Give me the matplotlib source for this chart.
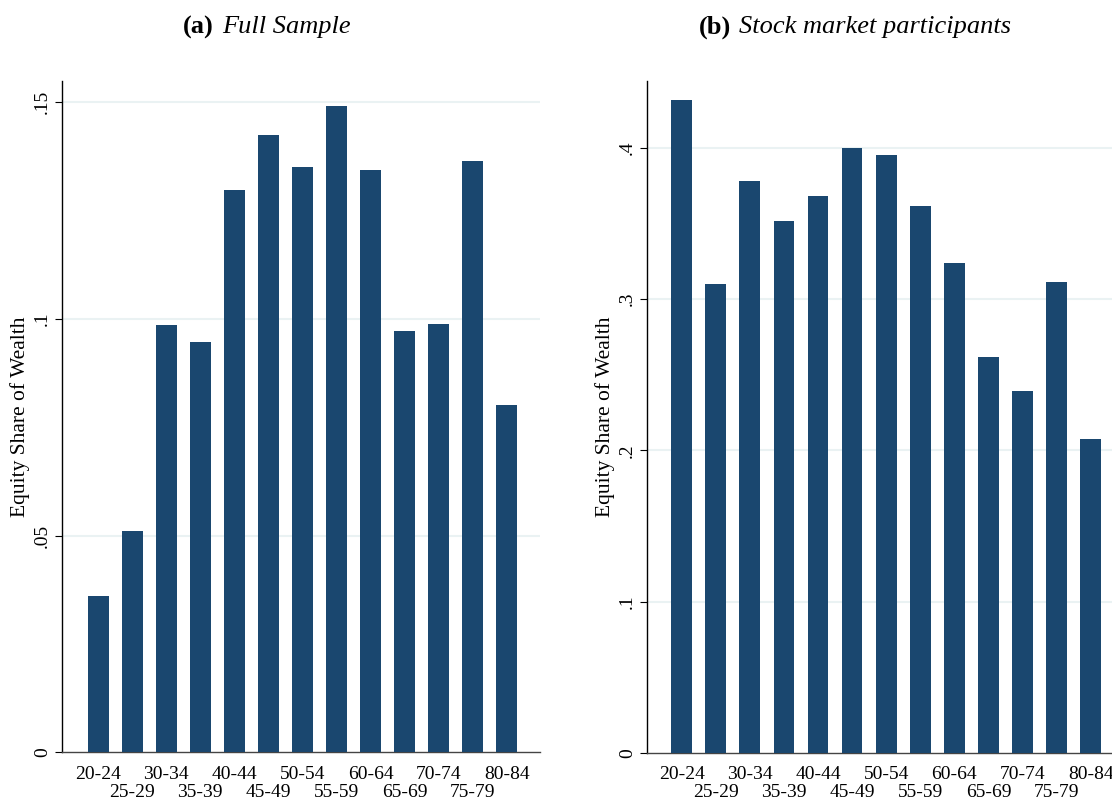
import numpy as np
import matplotlib
matplotlib.use("Agg")
import matplotlib.pyplot as plt

plt.rcParams['font.family'] = ['Liberation Serif', 'DejaVu Serif']

# age groups and equity share of wealth by group
grupos_edad = ['20-24', '25-29', '30-34', '35-39', '40-44', '45-49', '50-54',
               '55-59', '60-64', '65-69', '70-74', '75-79', '80-84']
muestra_total = [0.036, 0.051, 0.0986, 0.0947, 0.1295, 0.1422, 0.135,
                 0.149, 0.1343, 0.0972, 0.0988, 0.1362, 0.080]
participantes = [0.4316, 0.310, 0.378, 0.3516, 0.368, 0.400, 0.395,
                 0.3615, 0.324, 0.2617, 0.239, 0.311, 0.2075]

ticks_a = [0, 0.05, 0.1, 0.15]
etiquetas_a = ['0', '.05', '.1', '.15']
ticks_b = [0, 0.1, 0.2, 0.3, 0.4]
etiquetas_b = ['0', '.1', '.2', '.3', '.4']

color_barra = '#1a476f'
color_rejilla = '#eaf2f3'


def graficar_panel(ax, valores, ticks, etiquetas, ymax, xmin):
    x = np.arange(len(grupos_edad))
    ax.bar(x, valores, width=0.61, color=color_barra, zorder=3)
    ax.set_xlim(xmin, 12.98)
    ax.set_ylim(0, ymax)

    ax.set_yticks(ticks)
    ax.set_yticklabels(etiquetas, rotation=90, va='center', fontsize=14)
    ax.tick_params(axis='y', direction='out', length=5, width=0.8, pad=3)
    for y in ticks[1:]:
        ax.axhline(y, color=color_rejilla, linewidth=1.5, zorder=1)

    # etiquetas escalonadas en dos filas
    ax.set_xticks(x[::2])
    ax.set_xticklabels(grupos_edad[::2], fontsize=14)
    ax.set_xticks(x[1::2], minor=True)
    ax.set_xticklabels(grupos_edad[1::2], minor=True, fontsize=14)
    ax.tick_params(axis='x', which='major', length=0, pad=9.5)
    ax.tick_params(axis='x', which='minor', length=0, pad=22.5)

    ax.spines['top'].set_visible(False)
    ax.spines['right'].set_visible(False)
    ax.spines['left'].set_linewidth(1.0)
    ax.spines['bottom'].set_color('#444444')
    ax.spines['bottom'].set_linewidth(1.0)
    ax.set_ylabel('Equity Share of Wealth', fontsize=15.5, labelpad=3)


fig = plt.figure(figsize=(11.12, 7.99), dpi=100)

ax_a = fig.add_axes([0.0558, 0.0582, 0.4298, 0.8408])
graficar_panel(ax_a, muestra_total, ticks_a, etiquetas_a, 0.1548, -1.06)

# el panel derecho llega justo al borde de la figura
ax_b = fig.add_axes([0.5818, 0.0576, 0.4290, 0.8414])
graficar_panel(ax_b, participantes, ticks_b, etiquetas_b, 0.4443, -1.02)

# titulos: letra en negrita y texto en cursiva
fig.text(214 / 1112, 1 - 27 / 799, '(a)', fontsize=19, fontweight='bold',
         ha='right', va='center')
fig.text(222 / 1112, 1 - 27 / 799, 'Full Sample', fontsize=19, style='italic',
         ha='left', va='center')
fig.text(731 / 1112, 1 - 27 / 799, '(b)', fontsize=19, fontweight='bold',
         ha='right', va='center')
fig.text(739 / 1112, 1 - 27 / 799, 'Stock market participants', fontsize=19,
         style='italic', ha='left', va='center')

fig.savefig('out.png', dpi=100)
